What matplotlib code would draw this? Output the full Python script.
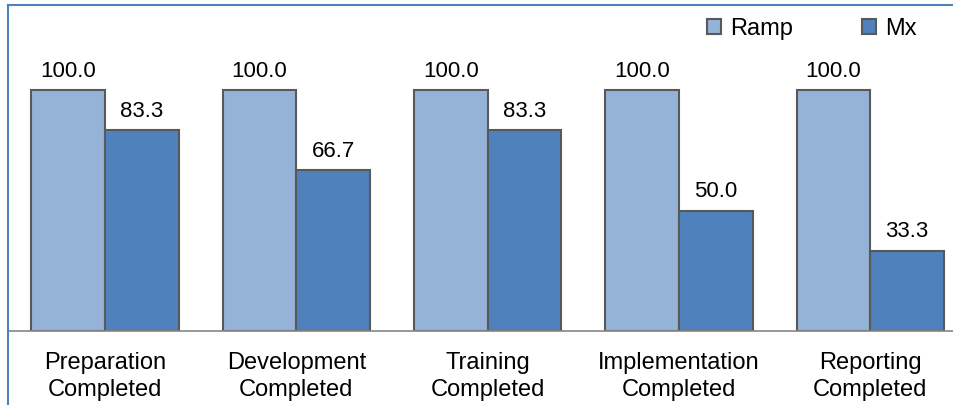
import numpy as np
import matplotlib.pyplot as plt
from matplotlib.lines import Line2D

plt.rcParams['font.family'] = ['Liberation Sans', 'DejaVu Sans']

categories = ['Preparation\nCompleted', 'Development\nCompleted', 'Training\nCompleted',
              'Implementation\nCompleted', 'Reporting\nCompleted']
ramp = [100.0, 100.0, 100.0, 100.0, 100.0]
mx = [83.3, 66.7, 83.3, 50.0, 33.3]

W, H = 954, 405
fig = plt.figure(figsize=(W / 100, H / 100), dpi=100)

# axes runs a little past the right edge, like the cropped original
left, right = 9.4, 966
bottom, top = 331, 10
ax = fig.add_axes([left / W, (H - bottom) / H, (right - left) / W, (bottom - top) / H])

x = np.arange(len(categories))
w = 0.385
b1 = ax.bar(x - w / 2, ramp, w, color='#95B3D7', edgecolor='#595959', linewidth=1.5, label='Ramp')
b2 = ax.bar(x + w / 2, mx, w, color='#4F81BD', edgecolor='#595959', linewidth=1.5, label='Mx')

for bars in (b1, b2):
    for r in bars:
        ax.annotate(f'{r.get_height():.1f}', (r.get_x() + r.get_width() / 2, r.get_height()),
                    xytext=(0, 6), textcoords='offset points', ha='center', va='bottom', fontsize=16)

ax.set_xlim(-0.5, 4.5)
ax.set_ylim(0, (bottom - top) / 2.41)
ax.set_yticks([])
ax.set_xticks(x)
ax.set_xticklabels(categories, fontsize=17, linespacing=1.3)
ax.tick_params(axis='x', length=0, pad=15)
for s in ['top', 'left', 'right']:
    ax.spines[s].set_visible(False)
ax.spines['bottom'].set_color('#868686')
ax.spines['bottom'].set_linewidth(1.2)

ax.legend(loc='center', bbox_to_anchor=(812 / W, 1 - 29 / H), bbox_transform=fig.transFigure,
          ncol=2, frameon=False, fontsize=17, handlelength=0.6, handleheight=0.6,
          handletextpad=0.4, columnspacing=2.9, borderpad=0)

# blue outline of the chart area (top and left visible)
fig.add_artist(Line2D([8 / W, 1], [1 - 5 / H, 1 - 5 / H], color='#4F81BD', lw=1.5))
fig.add_artist(Line2D([8 / W, 8 / W], [0, 1 - 5 / H], color='#4F81BD', lw=1.5))

fig.savefig('out.png', dpi=100)
